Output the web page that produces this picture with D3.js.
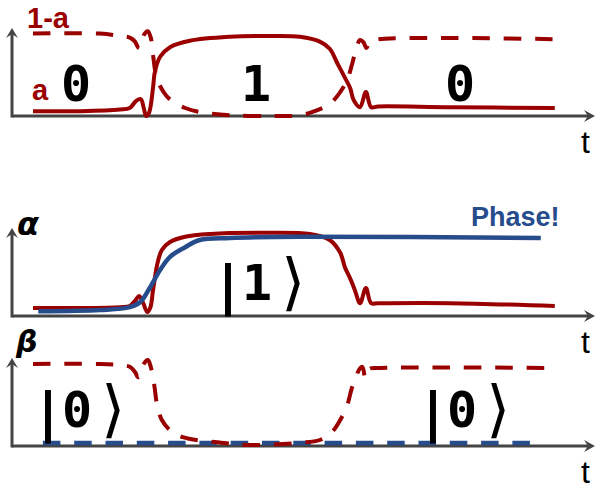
<!DOCTYPE html>
<html>
<head>
<meta charset="utf-8">
<script src="https://cdnjs.cloudflare.com/ajax/libs/d3/7.8.5/d3.min.js"></script>
<style>
  body { margin: 0; background: #fff; }
  svg { display: block; }
</style>
</head>
<body>
<script>
"use strict";

// t runs 0..100 along every panel, values are 0..1
const popA = [[3.6,0.06],[11.7,0.06],[18.5,0.08],[20.2,0.10],[21.3,0.19],[22.1,0.21],[22.6,0.10],[23.0,0.0],
  [23.5,0.04],[24.2,0.36],[24.5,0.55],[25.4,0.74],[27.1,0.86],[30.5,0.94],[37.4,0.99],[44.3,1.0],[49.4,0.99],
  [52.8,0.93],[54.5,0.84],[55.8,0.66],[57.1,0.48],[58.0,0.35],[58.6,0.2],[59.7,0.11],[60.7,0.30],[61.6,0.11],
  [62.8,0.12],[75.1,0.11],[93.1,0.10]];
const popOneMinusA = [[3.6,1.03],[15.1,1.03],[18.5,1.0],[20.2,0.98],[21.1,0.93],[21.6,0.86],[22.0,0.85],
  [22.6,1.01],[23.3,1.06],[23.8,0.98],[24.2,0.76],[24.7,0.51],[25.4,0.375],[26.4,0.26],[27.4,0.19],[29.7,0.10],
  [32.2,0.05],[37.4,0.01],[44.3,0.0],[49.4,0.01],[51.9,0.06],[54.5,0.15],[56.3,0.30],[57.5,0.45],[58.3,0.64],
  [59.0,0.83],[59.7,0.95],[60.3,0.92],[60.8,0.85],[61.4,0.93],[62.8,0.96],[93.1,0.96]];
const alphaRed = [[3.6,0.10],[11.7,0.10],[18.5,0.11],[20.2,0.125],[21.1,0.19],[21.8,0.25],[22.5,0.16],
  [23.2,0.05],[23.7,0.10],[24.2,0.325],[24.9,0.64],[25.7,0.825],[27.1,0.925],[29.7,0.99],[34.0,1.025],
  [42.5,1.04],[51.1,1.025],[54.5,0.95],[56.3,0.79],[57.1,0.61],[58.0,0.47],[58.8,0.325],[59.7,0.16],
  [60.7,0.35],[61.6,0.16],[62.8,0.16],[75.1,0.16],[93.1,0.125]];
const alphaBlue = [[4.5,0.06],[15.1,0.075],[20.2,0.11],[22.0,0.175],[23.7,0.36],[25.4,0.575],[27.1,0.74],
  [29.7,0.86],[32.2,0.95],[37.4,0.975],[49.4,0.99],[90.7,0.975]];
const betaRed = [[3.6,1.025],[15.1,1.025],[18.5,1.01],[20.2,0.99],[21.1,0.925],[21.6,0.86],[22.0,0.875],
  [22.6,1.025],[23.3,1.075],[23.8,0.99],[24.4,0.76],[24.9,0.51],[25.7,0.325],[27.1,0.2],[29.3,0.11],
  [34.8,0.05],[40.8,0.0125],[49.4,0.04],[52.8,0.075],[54.9,0.175],[56.3,0.325],[57.5,0.51],[58.3,0.725],
  [59.0,0.85],[59.5,0.95],[60.1,0.99],[60.6,0.85],[61.2,0.96],[63.1,0.975],[93.1,0.975]];
const betaBlue = [[5.3,0.0375],[88.9,0.0375]];

const topLabels = ["0", "1", "0"];
const kets = ["|1\u27E9", "|0\u27E9", "|0\u27E9"];

const red = "#9a0000";
const blue = "#264c8c";
const axisCol = "#444";

const W = 601, H = 490;
const svg = d3.select("body").append("svg").attr("width", W).attr("height", H);

const x = d3.scaleLinear().domain([0, 100]).range([12, 595]);
// one y scale per panel, x axis sits at value 0
const y1 = d3.scaleLinear().domain([0, 1]).range([116, 36]);
const y2 = d3.scaleLinear().domain([0, 1]).range([316, 236]);
const y3 = d3.scaleLinear().domain([0, 1]).range([446, 366]);

const lineFor = ys => d3.line()
    .x(d => x(d[0]))
    .y(d => ys(d[1]))
    .curve(d3.curveCatmullRom.alpha(0.5));

// axes with arrow heads
[y1, y2, y3].forEach(ys => {
    const y0 = ys(0), top = ys(1) - 8;
    const g = svg.append("g").attr("class", "axes");
    g.append("line").attr("x1", x(0)).attr("x2", x(100) - 6).attr("y1", y0).attr("y2", y0)
        .attr("stroke", axisCol).attr("stroke-width", 3);
    g.append("line").attr("x1", x(0)).attr("x2", x(0)).attr("y1", y0 + 1.5).attr("y2", top + 5)
        .attr("stroke", axisCol).attr("stroke-width", 3);
    const xt = x(100);
    g.append("path").attr("d", `M${xt},${y0} L${xt - 11},${y0 - 6} L${xt - 7},${y0} L${xt - 11},${y0 + 6} Z`)
        .attr("fill", axisCol);
    const xa = x(0);
    g.append("path").attr("d", `M${xa},${top} L${xa - 6},${top + 10} L${xa},${top + 6} L${xa + 6},${top + 10} Z`)
        .attr("fill", axisCol);
    g.append("text").attr("x", xt - 14).attr("y", y0 + 37)
        .attr("font-family", "Liberation Sans, Arial, sans-serif").attr("font-size", 32)
        .attr("fill", "#000").text("t");
});

const dash = "17.5,13.8";

// panel 1: populations
svg.append("path").datum(popOneMinusA).attr("d", lineFor(y1))
    .attr("fill", "none").attr("stroke", red).attr("stroke-width", 4).attr("stroke-dasharray", dash);
svg.append("path").datum(popA).attr("d", lineFor(y1))
    .attr("fill", "none").attr("stroke", red).attr("stroke-width", 4);

// panel 2: alpha
svg.append("path").datum(alphaRed).attr("d", lineFor(y2))
    .attr("fill", "none").attr("stroke", red).attr("stroke-width", 4);
svg.append("path").datum(alphaBlue).attr("d", lineFor(y2))
    .attr("fill", "none").attr("stroke", blue).attr("stroke-width", 4.5);

// panel 3: beta
svg.append("path").datum(betaBlue).attr("d", lineFor(y3))
    .attr("fill", "none").attr("stroke", blue).attr("stroke-width", 4.5).attr("stroke-dasharray", dash);
svg.append("path").datum(betaRed).attr("d", lineFor(y3))
    .attr("fill", "none").attr("stroke", red).attr("stroke-width", 4).attr("stroke-dasharray", dash);

// labels
const sansB = "Liberation Sans, Arial, sans-serif";
svg.append("text").attr("x", 27).attr("y", 28).attr("font-family", sansB).attr("font-weight", "bold")
    .attr("font-size", 29).attr("fill", red).text("1-a");
svg.append("text").attr("x", 32).attr("y", 100).attr("font-family", sansB).attr("font-weight", "bold")
    .attr("font-size", 29).attr("fill", red).text("a");
svg.append("text").attr("x", 471).attr("y", 226).attr("font-family", sansB).attr("font-weight", "bold")
    .attr("font-size", 27).attr("fill", blue).text("Phase!");

svg.append("text").attr("x", 17).attr("y", 235).attr("font-family", "DejaVu Sans, sans-serif")
    .attr("font-weight", "bold").attr("font-style", "italic").attr("font-size", 32).text("\u03B1");
svg.append("text").attr("x", 16).attr("y", 352).attr("font-family", "DejaVu Sans, sans-serif")
    .attr("font-weight", "bold").attr("font-style", "italic").attr("font-size", 30).text("\u03B2");

const mono = "DejaVu Sans Mono, monospace";
const topX = [76, 256, 460];
topLabels.forEach((s, i) => {
    svg.append("text").attr("x", topX[i]).attr("y", 101).attr("text-anchor", "middle")
        .attr("font-family", mono).attr("font-weight", "bold").attr("font-size", 50).text(s);
});

const ketPos = [[228, 300], [48, 427], [433, 427]];
kets.forEach((s, i) => {
    const [kx, ky] = ketPos[i];
    const t = svg.append("text").attr("y", ky).attr("font-family", mono);
    t.append("tspan").attr("x", kx).attr("y", ky + 4).attr("text-anchor", "middle")
        .attr("font-weight", "bold").attr("font-size", 54).text(s[0]);
    t.append("tspan").attr("x", kx + 29).attr("y", ky).attr("text-anchor", "middle")
        .attr("font-weight", "bold").attr("font-size", 50).text(s[1]);
    t.append("tspan").attr("x", kx + 65).attr("y", ky + 3).attr("text-anchor", "middle")
        .attr("font-size", 62).text(s[2]);
});
</script>
</body>
</html>
